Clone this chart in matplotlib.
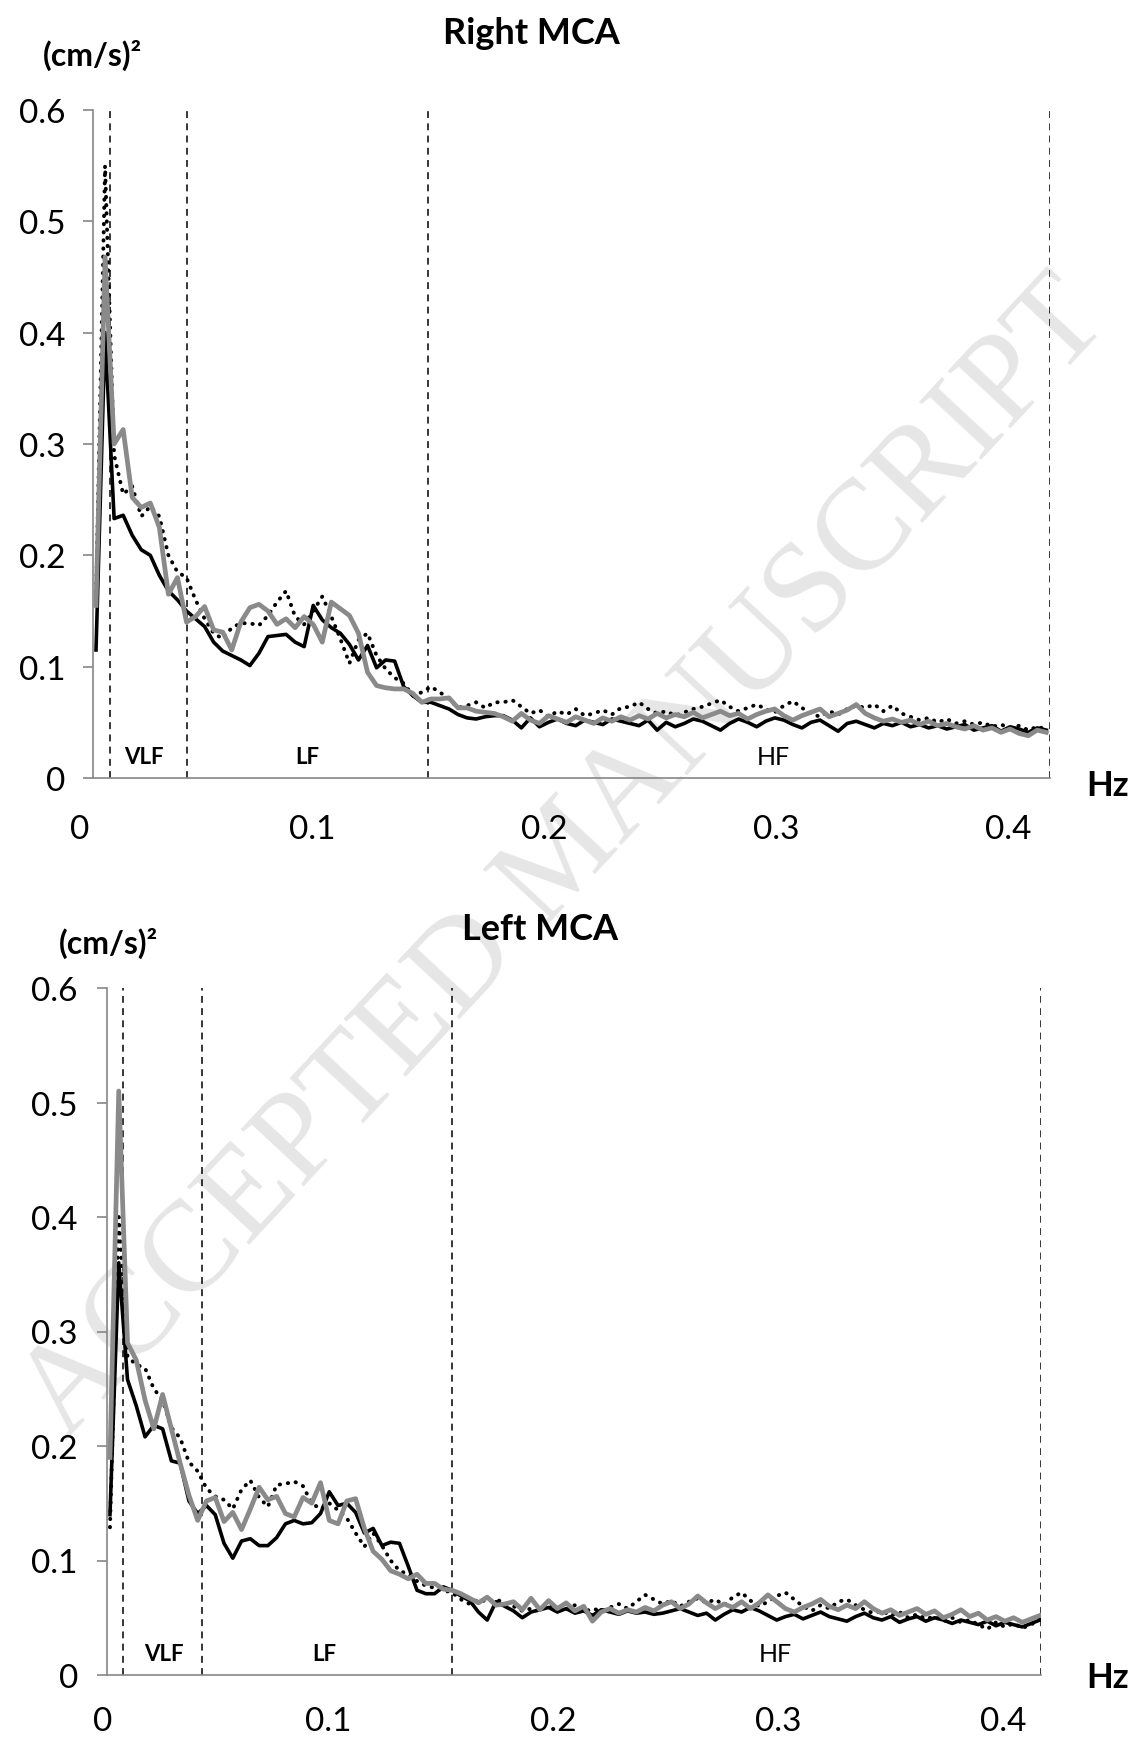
import numpy as np
import matplotlib
matplotlib.use("Agg")
import matplotlib.pyplot as plt

W, H = 1132, 1740
FONT = "Lato"

# frequency grid (Hz) of the spectra, bin width 0.0039 Hz
freq_right = 0.0069 + 0.0039 * np.arange(106)
freq_left = 0.0031 + 0.0039 * np.arange(107)

# ---- Right MCA, (cm/s)^2 ----
right_black = [
    0.115, 0.400, 0.233, 0.236, 0.218, 0.205, 0.200, 0.182, 0.168, 0.160,
    0.150, 0.143, 0.136, 0.122, 0.114, 0.110, 0.106, 0.101, 0.112, 0.127,
    0.128, 0.129, 0.122, 0.118, 0.155, 0.142, 0.135, 0.130, 0.120, 0.106,
    0.119, 0.099, 0.106, 0.105, 0.082, 0.074, 0.068, 0.068, 0.065, 0.062,
    0.057, 0.054, 0.053, 0.055, 0.056, 0.056, 0.052, 0.045, 0.054, 0.046,
    0.050, 0.053, 0.049, 0.047, 0.052, 0.050, 0.048, 0.053, 0.051, 0.049,
    0.047, 0.052, 0.043, 0.050, 0.046, 0.049, 0.053, 0.051, 0.047, 0.043,
    0.049, 0.053, 0.050, 0.046, 0.051, 0.054, 0.052, 0.048, 0.045, 0.050,
    0.052, 0.047, 0.042, 0.049, 0.051, 0.048, 0.045, 0.049, 0.047, 0.050,
    0.046, 0.048, 0.045, 0.047, 0.044, 0.046, 0.048, 0.043, 0.045, 0.047,
    0.042, 0.046, 0.044, 0.041, 0.045, 0.043,
]
right_dotted = [
    0.160, 0.550, 0.290, 0.255, 0.262, 0.235, 0.244, 0.235, 0.200, 0.185,
    0.180, 0.160, 0.143, 0.130, 0.125, 0.135, 0.139, 0.139, 0.137, 0.146,
    0.158, 0.168, 0.145, 0.138, 0.150, 0.163, 0.145, 0.125, 0.103, 0.124,
    0.130, 0.110, 0.098, 0.090, 0.085, 0.074, 0.077, 0.082, 0.077, 0.071,
    0.063, 0.065, 0.068, 0.063, 0.068, 0.068, 0.070, 0.064, 0.058, 0.061,
    0.055, 0.060, 0.057, 0.062, 0.056, 0.058, 0.061, 0.057, 0.063, 0.064,
    0.068, 0.062, 0.058, 0.060, 0.056, 0.059, 0.062, 0.064, 0.067, 0.070,
    0.064, 0.060, 0.063, 0.066, 0.062, 0.059, 0.065, 0.069, 0.063, 0.058,
    0.055, 0.060, 0.057, 0.062, 0.065, 0.063, 0.066, 0.060, 0.065, 0.058,
    0.055, 0.052, 0.054, 0.050, 0.053, 0.049, 0.051, 0.048, 0.050, 0.046,
    0.048, 0.045, 0.047, 0.043, 0.046, 0.044,
]
right_gray = [
    0.155, 0.468, 0.300, 0.313, 0.252, 0.243, 0.247, 0.225, 0.165, 0.180,
    0.140, 0.145, 0.154, 0.133, 0.131, 0.115, 0.140, 0.153, 0.156, 0.150,
    0.138, 0.143, 0.135, 0.145, 0.138, 0.122, 0.158, 0.152, 0.146, 0.130,
    0.095, 0.083, 0.081, 0.080, 0.080, 0.076, 0.068, 0.071, 0.071, 0.072,
    0.063, 0.063, 0.060, 0.059, 0.058, 0.055, 0.051, 0.058, 0.052, 0.049,
    0.056, 0.053, 0.050, 0.055, 0.052, 0.049, 0.054, 0.051, 0.055, 0.052,
    0.056, 0.053, 0.058, 0.054, 0.057, 0.055, 0.059, 0.054, 0.057, 0.060,
    0.056, 0.058, 0.053, 0.057, 0.060, 0.062, 0.056, 0.052, 0.056, 0.059,
    0.062, 0.055, 0.058, 0.061, 0.066, 0.058, 0.054, 0.051, 0.053, 0.050,
    0.052, 0.048, 0.051, 0.047, 0.049, 0.046, 0.044, 0.047, 0.043, 0.045,
    0.041, 0.044, 0.040, 0.038, 0.043, 0.041,
]

# ---- Left MCA, (cm/s)^2 ----
left_black = [
    0.140, 0.360, 0.258, 0.235, 0.208, 0.218, 0.215, 0.187, 0.185, 0.152,
    0.141, 0.148, 0.140, 0.115, 0.102, 0.117, 0.119, 0.113, 0.113, 0.120,
    0.132, 0.135, 0.132, 0.133, 0.141, 0.160, 0.148, 0.150, 0.142, 0.124,
    0.128, 0.113, 0.116, 0.115, 0.095, 0.074, 0.071, 0.071, 0.077, 0.074,
    0.069, 0.065, 0.055, 0.048, 0.064, 0.060, 0.056, 0.050, 0.055, 0.057,
    0.059, 0.055, 0.058, 0.054, 0.056, 0.052, 0.057, 0.055, 0.053, 0.056,
    0.054, 0.055, 0.053, 0.054, 0.056, 0.058, 0.055, 0.052, 0.054, 0.048,
    0.053, 0.057, 0.055, 0.059, 0.056, 0.052, 0.048, 0.051, 0.053, 0.049,
    0.052, 0.055, 0.051, 0.049, 0.047, 0.051, 0.054, 0.050, 0.048, 0.051,
    0.046, 0.049, 0.051, 0.047, 0.050, 0.048, 0.045, 0.048, 0.046, 0.044,
    0.047, 0.043, 0.046, 0.044, 0.042, 0.045, 0.048,
]
left_dotted = [
    0.129, 0.400, 0.278, 0.271, 0.268, 0.250, 0.240, 0.216, 0.207, 0.186,
    0.178, 0.163, 0.156, 0.153, 0.145, 0.162, 0.170, 0.155, 0.147, 0.166,
    0.167, 0.169, 0.165, 0.150, 0.145, 0.150, 0.144, 0.137, 0.124, 0.112,
    0.124, 0.113, 0.100, 0.091, 0.088, 0.082, 0.078, 0.076, 0.074, 0.072,
    0.066, 0.062, 0.066, 0.064, 0.066, 0.063, 0.060, 0.056, 0.058, 0.056,
    0.061, 0.060, 0.057, 0.061, 0.055, 0.058, 0.056, 0.059, 0.062, 0.058,
    0.064, 0.070, 0.066, 0.062, 0.065, 0.060, 0.064, 0.067, 0.063, 0.066,
    0.061, 0.068, 0.072, 0.065, 0.060, 0.064, 0.069, 0.072, 0.066, 0.060,
    0.056, 0.061, 0.058, 0.064, 0.066, 0.061, 0.057, 0.054, 0.056, 0.052,
    0.055, 0.050, 0.053, 0.049, 0.051, 0.047, 0.050, 0.046, 0.048, 0.044,
    0.040, 0.046, 0.042, 0.045, 0.041, 0.044, 0.049,
]
left_gray = [
    0.190, 0.510, 0.290, 0.275, 0.240, 0.215, 0.245, 0.215, 0.185, 0.157,
    0.135, 0.152, 0.155, 0.134, 0.142, 0.127, 0.145, 0.164, 0.153, 0.156,
    0.141, 0.138, 0.155, 0.150, 0.168, 0.135, 0.132, 0.152, 0.154, 0.128,
    0.108, 0.101, 0.091, 0.088, 0.084, 0.088, 0.080, 0.080, 0.075, 0.074,
    0.071, 0.067, 0.063, 0.068, 0.061, 0.062, 0.064, 0.057, 0.067, 0.057,
    0.065, 0.058, 0.063, 0.056, 0.060, 0.047, 0.055, 0.058, 0.054, 0.057,
    0.055, 0.059, 0.056, 0.061, 0.064, 0.058, 0.062, 0.069, 0.063, 0.058,
    0.062, 0.059, 0.064, 0.058, 0.063, 0.070, 0.064, 0.058, 0.055, 0.059,
    0.062, 0.066, 0.060, 0.057, 0.061, 0.058, 0.064, 0.058, 0.054, 0.057,
    0.052, 0.055, 0.058, 0.053, 0.056, 0.050, 0.053, 0.057, 0.051, 0.054,
    0.048, 0.051, 0.047, 0.050, 0.046, 0.049, 0.052,
]

# band limits (Hz) drawn as dashed lines
bands_right = [0.013, 0.046, 0.150, 0.418]
bands_left = [0.009, 0.044, 0.155, 0.417]
xticks = [0, 0.1, 0.2, 0.3, 0.4]
yticks = [0, 0.1, 0.2, 0.3, 0.4, 0.5, 0.6]

AXIS_GRAY = "#868686"


def fx(x):
    return x / W


def fy(y):
    return 1 - y / H


def draw_panel(ax, freq, black, dotted, gray, bands, xmax, spine_x, band_x, ypad, xpad):
    ax.plot(freq, black, color="black", lw=2.6, solid_joinstyle="round", zorder=3)
    ax.plot(freq, dotted, color="black", lw=2.8, linestyle=(0, (0.1, 2.0)),
            dash_capstyle="round", zorder=4)
    ax.plot(freq, gray, color="#8a8a8a", lw=3.4, solid_joinstyle="round", zorder=5)
    ax.vlines(bands, 0, 0.6, colors="black", linestyles=(0, (4.5, 3.5)), lw=1.1, zorder=2)

    ax.set_xlim(0, xmax)
    ax.set_ylim(0, 0.6)
    ax.patch.set_alpha(0)
    for s in ("top", "right"):
        ax.spines[s].set_visible(False)
    ax.spines["left"].set_position(("data", spine_x))
    ax.spines["bottom"].set_bounds(spine_x, xmax)
    for s in ("left", "bottom"):
        ax.spines[s].set_color(AXIS_GRAY)
        ax.spines[s].set_linewidth(1.2)

    ax.set_yticks(yticks)
    ax.set_yticklabels(["0", "0.1", "0.2", "0.3", "0.4", "0.5", "0.6"])
    ax.set_xticks(xticks)
    ax.set_xticklabels(["0", "0.1", "0.2", "0.3", "0.4"])
    ax.tick_params(axis="y", direction="out", length=7, width=1.2, color=AXIS_GRAY,
                   pad=ypad, labelsize=24)
    ax.tick_params(axis="x", length=0, pad=xpad, labelsize=24)
    for lab in ax.get_xticklabels() + ax.get_yticklabels():
        lab.set_fontfamily(FONT)

    for name, xc, bold in zip(["VLF", "LF", "HF"], band_x, [True, True, False]):
        ax.text(xc, 0.019, name, ha="center", va="center",
                fontsize=16 if bold else 18,
                fontweight="bold" if bold else "normal", family=FONT)


fig = plt.figure(figsize=(W / 100, H / 100), dpi=100)
fig.patch.set_facecolor("white")

# watermark, behind everything
fig.text(0.5, fy(860), "ACCEPTED MANUSCRIPT", family="Liberation Serif", fontsize=93,
         color="#e6e6e6", rotation=47, ha="center", va="center",
         rotation_mode="anchor", zorder=-10)

ax1 = fig.add_axes([fx(80), fy(779), 970 / W, 668 / H])
draw_panel(ax1, freq_right, right_black, right_dotted, right_gray, bands_right,
           0.418, 0.0056, [0.0276, 0.0978, 0.2987], ypad=13, xpad=26)

ax2 = fig.add_axes([fx(103), fy(1676), 938 / W, 687 / H])
draw_panel(ax2, freq_left, left_black, left_dotted, left_gray, bands_left,
           0.417, 0.0018, [0.0271, 0.0982, 0.2987], ypad=14, xpad=22)

fig.text(fx(531), fy(34), "Right MCA", ha="center", va="center", fontsize=26,
         fontweight="bold", family=FONT)
fig.text(fx(92), fy(55), "(cm/s)\u00b2", ha="center", va="center", fontsize=23,
         fontweight="bold", family=FONT)
fig.text(fx(1108), fy(786), "Hz", ha="center", va="center", fontsize=25,
         fontweight="bold", family=FONT)

fig.text(fx(540), fy(930), "Left MCA", ha="center", va="center", fontsize=26,
         fontweight="bold", family=FONT)
fig.text(fx(109), fy(943), "(cm/s)\u00b2", ha="center", va="center", fontsize=23,
         fontweight="bold", family=FONT)
fig.text(fx(1108), fy(1678), "Hz", ha="center", va="center", fontsize=25,
         fontweight="bold", family=FONT)

fig.savefig("out.png", dpi=100)
